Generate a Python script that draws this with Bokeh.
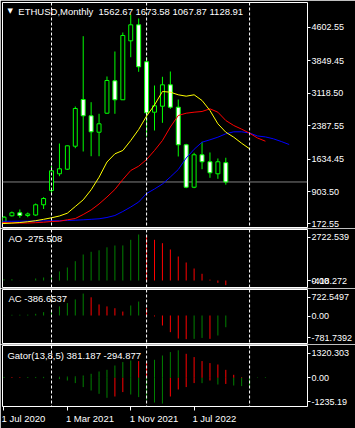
from bokeh.plotting import figure
from bokeh.layouts import column
from bokeh.models import Span, Label, FixedTicker, Range1d, ColumnDataSource
from bokeh.embed import file_html
from bokeh.resources import INLINE

# ---------------- data ----------------
months = ["Jul 2020", "Aug 2020", "Sep 2020", "Oct 2020", "Nov 2020", "Dec 2020",
          "Jan 2021", "Feb 2021", "Mar 2021", "Apr 2021", "May 2021", "Jun 2021",
          "Jul 2021", "Aug 2021", "Sep 2021", "Oct 2021", "Nov 2021", "Dec 2021",
          "Jan 2022", "Feb 2022", "Mar 2022", "Apr 2022", "May 2022", "Jun 2022",
          "Jul 2022", "Aug 2022", "Sep 2022", "Oct 2022", "Nov 2022"]
opens = [224, 368, 436, 375, 386, 616, 937, 1313, 1416, 1933, 2983, 2617, 2248, 2675, 3404,
         2977, 4303, 4663, 3831, 2698, 2833, 3314, 2810, 1965, 1011, 1740, 1583, 1313, 1562.67]
highs = [364, 465, 510, 442, 645, 787, 1488, 1994, 1949, 2826, 4407, 2923, 2662, 3501, 4063,
         4490, 4895, 4805, 3934, 3298, 3494, 3613, 2983, 1987, 1785, 2032, 1792, 1657, 1673.58]
lows = [206, 352, 323, 337, 368, 521, 870, 1259, 1398, 1888, 1814, 1708, 1708, 2662, 2662,
        2977, 3934, 3606, 2151, 2286, 2459, 2774, 1702, 989, 989, 1416, 1223, 1200, 1067.87]
closes = [337, 436, 375, 409, 616, 757, 1380, 1425, 1942, 2781, 2617, 2257, 2437, 3411, 2977,
          4423, 4663, 3719, 2684, 2842, 3314, 2810, 1965, 1011, 1740, 1583, 1335, 1583, 1128.91]

# Alligator lines (first value is the bar before Jul 2020; lines run into the future)
lips = [190, 195, 204, 217, 235, 258, 289, 323, 364, 427, 577, 728, 953, 1236, 1578, 1762, 1837,
        2061, 2309, 2612, 2860, 3163, 3148, 3089, 3058, 3089, 2961, 2736, 2437, 2248, 2136, 1999, 1875]
teeth = [222, 217, 209, 204, 206, 213, 224, 240, 247, 278, 307, 397, 499, 634, 791, 960, 1184, 1387,
         1484, 1634, 1837, 2061, 2365, 2624, 2675, 2698, 2714, 2774, 2698, 2511, 2399, 2316, 2226,
         2118, 2046]
jaw = [245, 245, 245, 247, 249, 251, 254, 256, 258, 263, 269, 278, 289, 301, 330, 375, 465, 566, 678,
       870, 971, 1083, 1241, 1409, 1668, 1864, 2023, 2077, 2136, 2212, 2257, 2257, 2230, 2163, 2142,
       2100, 2039, 1971]

ao = [77, 80, 5, 10, 118, 178, 337, 533, 770, 1143, 1539, 1699, 1788, 1965, 2072, 2075, 2409,
      2722.539, 2664, 2409, 2208, 1835, 1421, 1066, 710, 397, 50, -136, -275.508]
ac = [5, 23, 25, 28, 55, 110, 170, 300, 410, 530, 722.5497, 600, 365, 300, 240, 130, 330, 460,
      240, -30, -330, -550, -760, -781.7392, -770, -740, -770, -660, -386.6537]
gator_up = [40, 30, 25, 35, 40, 45, 40, 50, 60, 70, 110, 192, 302, 384, 590, 754, 830, 802, 754,
            864, 1070, 1234, 1320.303, 1152, 994, 802, 706, 638, 381.187, 144, 34, 5, 20, 30]
gator_dn = [-10, -8, -6, -10, -12, -15, -25, -62, -130, -254, -446, -610, -768, -960, -898, -686,
            -802, -926, -1056, -1186, -1235.19, -898, -562, -446, -254, -256, -130, -322, -294.877,
            -370, -398, -430]

price_ticks = [195.0, 903.50, 1634.45, 2387.55, 3118.50, 3849.45, 4602.55]
price_tick_text = ["172.55", "903.50", "1634.45", "2387.55", "3118.50", "3849.45", "4602.55"]
ao_tick_text = ["2722.539", "0.00", "-418.272"]
ac_tick_text = ["722.5497", "0.00", "-781.7392"]
gator_tick_text = ["1320.303", "0.00", "-1235.19"]
date_ticks = [0, 8, 16, 24]
date_text = ["1 Jul 2020", "1 Mar 2021", "1 Nov 2021", "1 Jul 2022"]
separators = [6, 18, 31]

title_text = "ETHUSD,Monthly\u00a0 1562.67 1673.58 1067.87 1128.91"
ao_text = "AO -275.508"
ac_text = "AC -386.6537"
gator_text = "Gator(13,8,5) 381.187 -294.877"

# ---------------- styling ----------------
FONT = "Liberation Sans"
LIME = "#00FF00"
DKGREEN = "#008000"
RED = "#FF0000"
X_RANGE = Range1d(-0.1875, 38.3125)


def make_fig(h, top, bottom, y0, y1, xaxis=False):
    p = figure(width=355, height=h, x_range=X_RANGE, y_range=Range1d(y0, y1),
               output_backend="svg", toolbar_location=None, tools="",
               x_axis_location="below" if xaxis else None, y_axis_location="right",
               min_border_left=2, min_border_right=45, min_border_top=top,
               min_border_bottom=bottom, background_fill_color="black",
               border_fill_color="black", outline_line_color="white", outline_line_width=1)
    p.xgrid.grid_line_color = None
    p.ygrid.grid_line_color = None
    for s in separators:
        p.add_layout(Span(location=s, dimension="height", line_color="white",
                          line_dash="3 2", line_width=1))
    return p


def style_yaxis(p, pos, texts):
    ax = p.yaxis[0]
    ax.ticker = FixedTicker(ticks=pos)
    ax.major_label_overrides = {float(v): t for v, t in zip(pos, texts)}
    ax.axis_line_color = None
    ax.major_tick_line_color = "white"
    ax.major_tick_out = 3
    ax.major_tick_in = 0
    ax.minor_tick_line_color = None
    ax.major_label_text_color = "white"
    ax.major_label_text_font = FONT
    ax.major_label_text_font_size = "9px"
    ax.major_label_standoff = 1


def panel_label(p, x, y, text):
    p.add_layout(Label(x=x, y=y, text=text, text_color="white", text_font=FONT,
                       text_font_size="9.5px", text_baseline="middle", text_align="left"))


def hist_colors(vals, magnitude=False):
    cols = []
    for i, v in enumerate(vals):
        if i == 0:
            cols.append(DKGREEN)
            continue
        a, b = (abs(v), abs(vals[i - 1])) if magnitude else (v, vals[i - 1])
        cols.append(DKGREEN if a > b else RED)
    return cols


xs = list(range(len(months)))

# ---------------- main chart ----------------
p1 = make_fig(228, 2, 1, 105.1, 5164.7)
p1.add_layout(Span(location=closes[-1], dimension="width", line_color="#808080",
                   line_width=1, level="underlay"))
src = ColumnDataSource(dict(
    x=xs, h=highs, l=lows,
    top=[max(o, c) for o, c in zip(opens, closes)],
    bottom=[min(o, c) for o, c in zip(opens, closes)],
    fill=["black" if c >= o else "white" for o, c in zip(opens, closes)]))
p1.segment(x0="x", y0="l", x1="x", y1="h", source=src, line_color=LIME, line_width=1)
p1.vbar(x="x", width=0.5, top="top", bottom="bottom", source=src,
        fill_color="fill", line_color=LIME, line_width=1)
p1.line(list(range(-1, len(jaw) - 1)), jaw, line_color="#0000FF", line_width=1)
p1.line(list(range(-1, len(teeth) - 1)), teeth, line_color=RED, line_width=1)
p1.line(list(range(-1, len(lips) - 1)), lips, line_color="#FFFF00", line_width=1)
style_yaxis(p1, price_ticks, price_tick_text)
p1.add_layout(Label(x=0.775, y=4975, text="\u25bc", text_color="white",
                    text_font="DejaVu Sans", text_font_size="7px",
                    text_baseline="middle", text_align="center"))
panel_label(p1, 1.8125, 4973, title_text)
p1.add_layout(Label(x=38.5625, y=closes[-1], text="1128.91", text_color="black",
                    text_font=FONT, text_font_size="9px", text_baseline="middle",
                    text_align="left", background_fill_color="white"))

# ---------------- AO ----------------
p2 = make_fig(60, 1, 1, -414.4, 3019.2)
p2.segment(x0=xs, y0=[0] * len(ao), x1=xs, y1=ao, line_color=hist_colors(ao), line_width=1)
style_yaxis(p2, [2563.0, 0.0, -20.0], ao_tick_text)
panel_label(p2, 0.5625, 2469, ao_text)

# ---------------- AC ----------------
p3 = make_fig(56, 1, 1, -924, 858)
p3.segment(x0=xs, y0=[0] * len(ac), x1=xs, y1=ac, line_color=hist_colors(ac), line_width=1)
style_yaxis(p3, [604.0, -30.0, -736.0], ac_tick_text)
panel_label(p3, 0.5625, 551, ac_text)

# ---------------- Gator ----------------
p4 = make_fig(84, 1, 22, -1377.6, 1550.4, xaxis=True)
gx_up = list(range(len(gator_up)))
gx_dn = list(range(len(gator_dn)))
p4.segment(x0=gx_up, y0=[0] * len(gx_up), x1=gx_up, y1=gator_up,
           line_color=hist_colors(gator_up), line_width=1)
p4.segment(x0=gx_dn, y0=[0] * len(gx_dn), x1=gx_dn, y1=gator_dn,
           line_color=hist_colors(gator_dn, magnitude=True), line_width=1)
style_yaxis(p4, [1181.0, 0.0, -1138.0], gator_tick_text)
panel_label(p4, 0.4375, 1070, gator_text)

# date axis: labels start at the tick (label centres shifted right by half a label)
label_offsets = [2.45, 2.85, 2.95, 2.55]
centres = [t + o for t, o in zip(date_ticks, label_offsets)]
xa = p4.xaxis[0]
xa.ticker = FixedTicker(ticks=centres, minor_ticks=date_ticks)
xa.major_label_overrides = {float(c): t for c, t in zip(centres, date_text)}
xa.axis_line_color = None
xa.major_tick_line_color = None
xa.major_tick_out = 4
xa.major_tick_in = 0
xa.minor_tick_line_color = "white"
xa.minor_tick_out = 4
xa.minor_tick_in = 0
xa.major_label_text_color = "white"
xa.major_label_text_font = FONT
xa.major_label_text_font_size = "9.5px"
xa.major_label_standoff = 2

layout = column(p1, p2, p3, p4, spacing=0)
open("out.html", "w").write(file_html(layout, INLINE))
